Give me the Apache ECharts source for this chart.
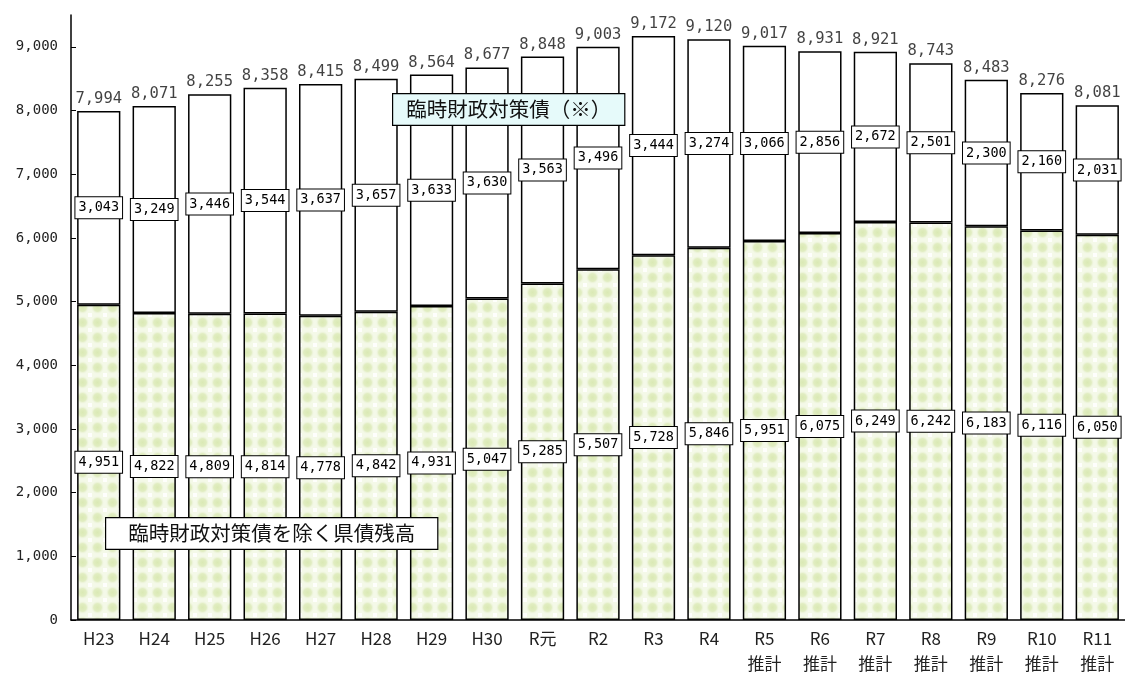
<!DOCTYPE html>
<html>
<head>
<meta charset="utf-8">
<script src="https://cdn.jsdelivr.net/npm/echarts@6/dist/echarts.min.js"></script>
<style>
html,body{margin:0;padding:0;background:#fff;}
#chart{width:1125px;height:688px;}
</style>
</head>
<body>
<div id="chart"></div>
<script>
const categories = ['H23','H24','H25','H26','H27','H28','H29','H30','R元','R2','R3','R4','R5\n推計','R6\n推計','R7\n推計','R8\n推計','R9\n推計','R10\n推計','R11\n推計'];
const baseDebt = [4951,4822,4809,4814,4778,4842,4931,5047,5285,5507,5728,5846,5951,6075,6249,6242,6183,6116,6050];
const tempDebt = [3043,3249,3446,3544,3637,3657,3633,3630,3563,3496,3444,3274,3066,2856,2672,2501,2300,2160,2031];
const totals   = [7994,8071,8255,8358,8415,8499,8564,8677,8848,9003,9172,9120,9017,8931,8921,8743,8483,8276,8081];

function fmt(v){ return String(v).replace(/\B(?=(\d{3})+(?!\d))/g, ','); }

// soft green dotted pattern
const pc = document.createElement('canvas');
pc.width = 15; pc.height = 15;
const g = pc.getContext('2d');
g.fillStyle = '#f4f9e8'; g.fillRect(0,0,15,15);
const rg = g.createRadialGradient(7.5,7.5,0,7.5,7.5,6.5);
rg.addColorStop(0,'#dae9b4'); rg.addColorStop(0.6,'#e1edc2'); rg.addColorStop(1,'rgba(238,245,220,0)');
g.fillStyle = rg; g.fillRect(0,0,15,15);
g.fillStyle = 'rgba(255,255,255,0.85)';
g.fillRect(0,0,2,2); g.fillRect(13,0,2,2); g.fillRect(0,13,2,2); g.fillRect(13,13,2,2);

const mono = '"DejaVu Sans Mono","Liberation Mono",monospace';
const jp = '"Noto Sans CJK JP","Noto Sans",sans-serif';

const segLabel = {
  show: true, position: 'inside',
  formatter: p => fmt(p.value),
  fontFamily: mono, fontSize: 13.5, color: '#000',
  backgroundColor: '#fff', borderColor: '#000', borderWidth: 1,
  padding: [4, 3, 3, 3]
};

const chart = echarts.init(document.getElementById('chart'));
chart.setOption({
  animation: false,
  backgroundColor: '#fff',
  grid: { left: 71, width: 1056, top: 15, bottom: 68, containLabel: false },
  xAxis: {
    type: 'category', data: categories,
    axisLine: { lineStyle: { color: '#000', width: 1.5 } },
    axisTick: { inside: true, length: 4, lineStyle: { color: '#000' } },
    axisLabel: { color: '#222', fontFamily: jp, fontSize: 17, margin: 6, lineHeight: 25, interval: 0 }
  },
  yAxis: {
    type: 'value', min: 0, max: 9500, interval: 1000,
    splitLine: { show: false },
    axisLine: { show: true, lineStyle: { color: '#000', width: 1.5 } },
    axisTick: { show: true, inside: true, length: 5, lineStyle: { color: '#000' } },
    axisLabel: { showMaxLabel: false, color: '#222', fontFamily: mono, fontSize: 14, margin: 13,
      formatter: v => v === 9500 ? '' : fmt(v) }
  },
  series: [
    {
      name: '臨時財政対策債を除く県債残高', type: 'bar', stack: 'debt', data: baseDebt,
      barWidth: '78%',
      itemStyle: { color: { image: pc, repeat: 'repeat' }, borderColor: '#000', borderWidth: 1.5 },
      label: segLabel, z: 2
    },
    {
      name: '臨時財政対策債（※）', type: 'bar', stack: 'debt', data: tempDebt,
      barWidth: '78%',
      itemStyle: { color: '#fff', borderColor: '#000', borderWidth: 1.5 },
      label: segLabel, z: 2
    },
    {
      name: '合計', type: 'scatter', data: totals, symbolSize: 0, silent: true,
      label: { show: true, position: 'top', distance: 4, formatter: p => fmt(p.value),
        fontFamily: mono, fontSize: 15.5, color: '#111' },
      z: 3
    }
  ],
  graphic: [
    { type: 'text', left: 392, top: 93, z: 10,
      style: { text: '臨時財政対策債（※）', font: '20.5px ' + jp, fill: '#111',
        backgroundColor: '#e6fafa', borderColor: '#000', borderWidth: 1.2, padding: [5, 13, 5, 13] } },
    { type: 'text', left: 105, top: 517, z: 10,
      style: { text: '臨時財政対策債を除く県債残高', font: '20.5px ' + jp, fill: '#111',
        backgroundColor: '#fff', borderColor: '#000', borderWidth: 1.2, padding: [5, 22, 5, 22] } }
  ]
});
</script>
</body>
</html>
